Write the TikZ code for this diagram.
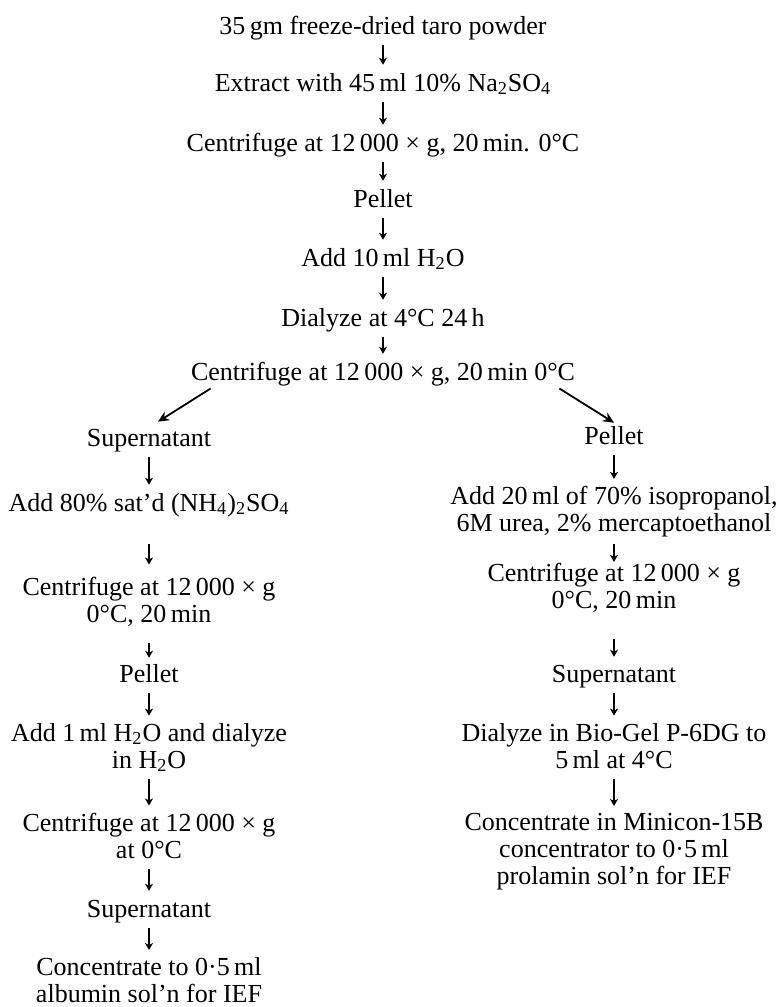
\documentclass[tikz,border=0pt]{standalone}
\usepackage{fontspec}
\setmainfont{Liberation Serif}
\usepackage{tikz}
\usetikzlibrary{arrows.meta, positioning, calc}

\begin{document}
\begin{tikzpicture}[x=0.5pt, y=-0.5pt, font=\fontsize{13}{13.5}\selectfont]
	\tikzstyle{stage}=[inner sep=0pt, align=center, execute at begin node=\strut, execute at end node=\strut]
	\tikzstyle{flow}=[-{Stealth[length=3.5pt, width=4pt, inset=1pt]}, line width=0.6pt, shorten <=1pt, shorten >=3.5pt]
	\tikzstyle{branch}=[-{Stealth[length=5.5pt, width=5pt]}, line width=0.9pt]

	\path[use as bounding box] (0,0) rectangle (781,1007);

	% common trunk
	\node (t0) at (383,28.6) [stage] {35\,gm freeze-dried taro powder};
	\node (t1) at (383,85.6) [stage] {Extract with 45\,ml 10\% Na\textsubscript{2}SO\textsubscript{4}};
	\node (t2) at (383,145.6) [stage] {Centrifuge at 12\,000 × g, 20\,min. 0°C};
	\node (t3) at (383,201.6) [stage] {Pellet};
	\node (t4) at (383,260.6) [stage] {Add 10\,ml H\textsubscript{2}O};
	\node (t5) at (383,320.6) [stage] {Dialyze at 4°C 24\,h};
	\node (t6) at (383,374.6) [stage] {Centrifuge at 12\,000 × g, 20\,min 0°C};

	\draw [flow] (t0) -- (t1);
	\draw [flow] (t1) -- (t2);
	\draw [flow] (t2) -- (t3);
	\draw [flow] (t3) -- (t4);
	\draw [flow] (t4) -- (t5);
	\draw [flow] (t5) -- (t6);

	% supernatant branch (albumin)
	\node (l0) at (149,440.6) [stage] {Supernatant};
	\node (l1) at (149,505.6) [stage] {Add 80\% sat'd (NH\textsubscript{4})\textsubscript{2}SO\textsubscript{4}};
	\node (l2) at (149,603.6) [stage] {Centrifuge at 12\,000 × g\\0°C, 20\,min};
	\node (l3) at (149,676.6) [stage] {Pellet};
	\node (l4) at (149,749.6) [stage] {Add 1\,ml H\textsubscript{2}O and dialyze\\in H\textsubscript{2}O};
	\node (l5) at (149,839.6) [stage] {Centrifuge at 12\,000 × g\\at 0°C};
	\node (l6) at (149,911.6) [stage] {Supernatant};
	\node (l7) at (149,984) [stage] {Concentrate to 0·5\,ml\\albumin sol'n for IEF};

	\draw [branch] ([xshift=10pt]t6.south west) -- ([xshift=4.5pt, yshift=2.5pt]l0.north);
	\draw [flow] (l0) -- (l1);
	\draw [flow, shorten <=12pt, shorten >=6pt] (l1) -- (l2);
	\draw [flow, shorten <=6pt, shorten >=2.5pt] (l2) -- (l3);
	\draw [flow] (l3) -- (l4);
	\draw [flow] (l4) -- (l5);
	\draw [flow] (l5) -- (l6);
	\draw [flow] (l6) -- (l7);

	% pellet branch (prolamin)
	\node (r0) at (614,438.6) [stage] {Pellet};
	\node (r1) at (614,513) [stage] {Add 20\,ml of 70\% isopropanol,\\6M urea, 2\% mercaptoethanol};
	\node (r2) at (614,590) [stage] {Centrifuge at 12\,000 × g\\0°C, 20\,min};
	\node (r3) at (614,676.6) [stage] {Supernatant};
	\node (r4) at (614,749.6) [stage] {Dialyze in Bio-Gel P-6DG to\\5\,ml at 4°C};
	\node (r5) at (614,853) [stage] {Concentrate in Minicon-15B\\concentrator to 0·5\,ml\\prolamin sol'n for IEF};

	\draw [branch] ([xshift=-8pt]t6.south east) -- ([yshift=1pt]r0.north);
	\draw [flow] (r0) -- (r1);
	\draw [flow, shorten <=2pt, shorten >=0.5pt] (r1) -- (r2);
	\draw [flow, shorten <=11pt, shorten >=3pt] (r2) -- (r3);
	\draw [flow] (r3) -- (r4);
	\draw [flow] (r4) -- (r5);
\end{tikzpicture}
\end{document}
